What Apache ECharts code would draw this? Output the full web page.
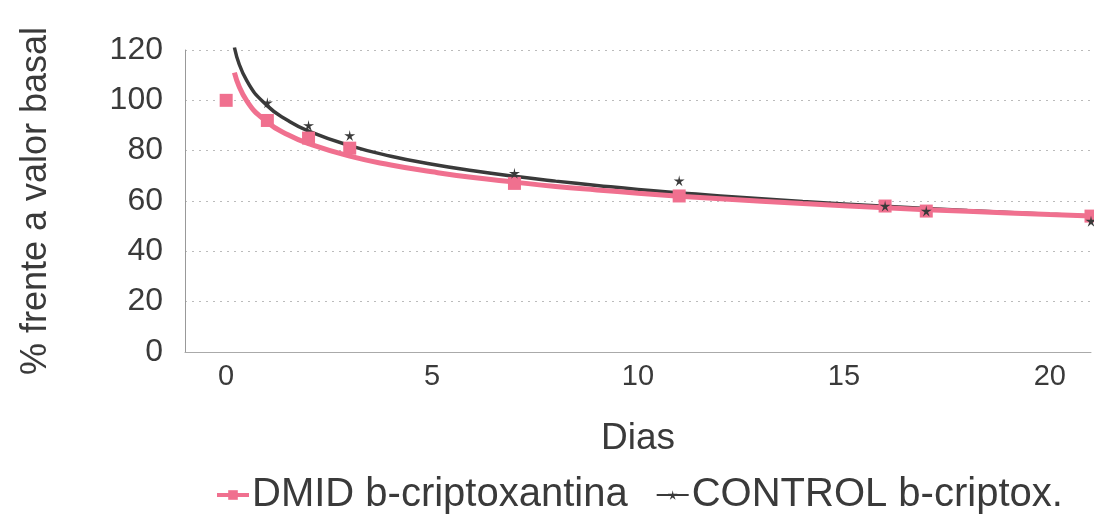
<!DOCTYPE html>
<html>
<head>
<meta charset="utf-8">
<script src="https://cdn.jsdelivr.net/npm/echarts@6/dist/echarts.min.js"></script>
<style>html,body{margin:0;padding:0;background:#fff;}#c{width:1094px;height:526px;}</style>
</head>
<body>
<div id="c"></div>
<script>
// Measured data points (days, % of baseline)
const dmidDays = [0, 1, 2, 3, 7, 11, 16, 17, 21];
const dmidValues = [100, 92, 85, 81, 67, 62, 58, 56, 54];
const controlDays = [1, 2, 3, 7, 11, 16, 17, 21];
const controlValues = [99, 90, 86, 71, 68, 58, 56, 52];
// Trend curves
const trendDays = [0.2, 0.5, 1, 1.5, 2, 3, 4, 5, 6, 7, 8, 9, 10, 11, 12, 14, 16, 18, 20, 21];
const dmidTrend = [111.0, 99.8, 91.3, 86.3, 82.8, 77.8, 74.3, 71.6, 69.3, 67.5, 65.8, 64.4, 63.1, 61.9, 60.9, 59.0, 57.3, 55.9, 54.6, 54.0];
const controlTrend = [121.0, 107.8, 97.8, 92.0, 87.8, 82.0, 77.8, 74.6, 72.0, 69.8, 67.9, 66.2, 64.6, 63.3, 62.0, 59.8, 57.9, 56.2, 54.7, 54.0];
const xTickLabels = [0, 5, 10, 15, 20];
const yTickLabels = [0, 20, 40, 60, 80, 100, 120];

const pink = '#f0708f';
const dark = '#3a3a3a';
const starPath = 'path://M50,0 L58,38 L100,38 L66,60 L80,100 L50,75 L20,100 L34,60 L0,38 L42,38 Z';
const zip = (xs, ys) => xs.map((x, i) => [x, ys[i]]);
const font = 'Liberation Sans, Arial, sans-serif';

const chart = echarts.init(document.getElementById('c'));
chart.setOption({
  backgroundColor: '#fff',
  animation: false,
  grid: { left: 185, right: 2, top: 50, bottom: 174 },
  legend: {
    bottom: 6, left: 210, itemWidth: 32, itemHeight: 12, itemGap: 28,
    textStyle: { fontFamily: font, fontSize: 40, color: dark, padding: [0, 0, 0, -2] },
    data: [
      { name: 'DMID b-criptoxantina', lineStyle: { opacity: 1, color: pink, width: 4 } },
      { name: 'CONTROL b-criptox.', lineStyle: { opacity: 1, color: dark, width: 2 } }
    ]
  },
  xAxis: {
    type: 'value', min: -1, max: 21, interval: 1,
    name: 'Dias', nameLocation: 'middle', nameGap: 68,
    nameTextStyle: { fontFamily: font, fontSize: 37, color: dark },
    axisLine: { show: true, onZero: false, lineStyle: { color: '#aaa', width: 1 } },
    axisTick: { show: false },
    splitLine: { show: false },
    axisLabel: {
      margin: 10, fontFamily: font, fontSize: 29, color: dark,
      formatter: v => xTickLabels.includes(v) ? String(v) : ''
    }
  },
  yAxis: {
    type: 'value', min: 0, max: 120, interval: 20,
    name: '% frente a valor basal', nameLocation: 'middle', nameGap: 131, nameRotate: 90,
    nameTextStyle: { fontFamily: font, fontSize: 36, color: dark },
    axisLine: { show: true, onZero: false, lineStyle: { color: '#999', width: 1 } },
    axisTick: { show: false },
    splitLine: { show: true, lineStyle: { color: '#bbb', type: [2, 5], width: 1 } },
    axisLabel: {
      margin: 22, fontFamily: font, fontSize: 32, color: dark,
      formatter: v => yTickLabels.includes(v) ? String(v) : ''
    }
  },
  series: [
    {
      name: 'DMID b-criptoxantina', type: 'line', data: zip(dmidDays, dmidValues),
      symbol: 'rect', symbolSize: 13, itemStyle: { color: pink },
      lineStyle: { opacity: 0, color: pink, width: 4 }, z: 4
    },
    {
      name: 'CONTROL b-criptox.', type: 'line', data: zip(controlDays, controlValues),
      symbol: starPath, symbolSize: 11, itemStyle: { color: dark },
      lineStyle: { opacity: 0, color: dark, width: 2 }, z: 5
    },
    {
      name: 'CONTROL trend', type: 'line', data: zip(trendDays, controlTrend),
      smooth: true, showSymbol: false, clip: false, lineStyle: { color: dark, width: 3.5 }, z: 2
    },
    {
      name: 'DMID trend', type: 'line', data: zip(trendDays, dmidTrend),
      smooth: true, showSymbol: false, clip: false, lineStyle: { color: pink, width: 5 }, z: 3
    }
  ]
});
</script>
</body>
</html>
